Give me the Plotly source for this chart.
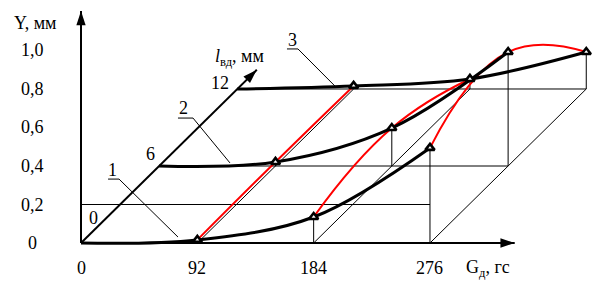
import plotly.graph_objects as go

# ---------------- data ----------------
G_VALUES = [0, 92, 184, 276]          # Gд, гс
L_LEVELS = [0, 6, 12]                 # lвд, мм
Y_L0 = [0, 0.016, 0.135, 0.494]       # curve 1
Y_L6 = [0, 0.021, 0.197, 0.592]       # curve 2
Y_L12 = [0, 0.016, 0.052, 0.192]      # curve 3
Y_BY_LEVEL = [Y_L0, Y_L6, Y_L12]
Y_TICKS = [0, 0.2, 0.4, 0.6, 0.8, 1.0]
Y_TICK_LABELS = ["0", "0,2", "0,4", "0,6", "0,8", "1,0"]
G_TICK_LABELS = ["0", "92", "184", "276"]
L_TICK_LABELS = ["0", "6", "12"]
CURVE_LABELS = ["1", "2", "3"]
Y_REF_LINE = 0.2

# ---------------- oblique projection (style) ----------------
G_PER_MM = 10.3
Y_PER_MM = 1.0 / 15.0
L_AXIS_END = 13.5
G_AXIS_END = 343
Y_AXIS_END = 1.205


def proj(g, l, y):
    return g + G_PER_MM * l, y + Y_PER_MM * l


FONT = "Liberation Serif, Times New Roman, Tinos, DejaVu Serif, serif"
BLACK = "black"
RED = "#ff0000"

fig = go.Figure()


def line(xs, ys, width=1.0, color=BLACK, shape="linear", smoothing=1.0):
    fig.add_trace(go.Scatter(x=xs, y=ys, mode="lines",
                             line=dict(color=color, width=width, shape=shape, smoothing=smoothing),
                             hoverinfo="skip", showlegend=False))


# thin construction lines
for l in L_LEVELS[1:]:
    x0, y0 = proj(G_VALUES[0], l, 0)
    x1, y1 = proj(G_VALUES[-1], l, 0)
    line([x0, x1], [y0, y1])
line([G_VALUES[0], G_VALUES[-1]], [Y_REF_LINE, Y_REF_LINE])
for g in G_VALUES[1:]:
    x0, y0 = proj(g, L_LEVELS[0], 0)
    x1, y1 = proj(g, L_LEVELS[-1], 0)
    line([x0, x1], [y0, y1])
for l, ys in zip(L_LEVELS, Y_BY_LEVEL):
    for g, y in zip(G_VALUES[1:], ys[1:]):
        x0, y0 = proj(g, l, 0)
        x1, y1 = proj(g, l, y)
        line([x0, x1], [y0, y1])

# axes
line([0, G_AXIS_END], [0, 0], width=2)
line([0, 0], [0, Y_AXIS_END], width=2)
xa, ya = proj(0, L_AXIS_END, 0)
line([0, xa], [0, ya], width=2)
fig.add_trace(go.Scatter(x=[G_AXIS_END, 0, xa], y=[0, Y_AXIS_END, ya], mode="markers",
                         marker=dict(symbol="arrow", size=15, color=BLACK, angle=[90, 0, 45],
                                     line=dict(width=0)),
                         hoverinfo="skip", showlegend=False))

# red cross-section curves (constant G across l)
for i, g in enumerate(G_VALUES[1:], start=1):
    xs, ys = [], []
    for l, yv in zip(L_LEVELS, Y_BY_LEVEL):
        x, y = proj(g, l, yv[i])
        xs.append(x)
        ys.append(y)
    line(xs, ys, width=2, color=RED, shape="spline", smoothing=1.3)

# black curves (constant l across G)
for l, yv in zip(L_LEVELS, Y_BY_LEVEL):
    xs, ys = [], []
    for g, y in zip(G_VALUES, yv):
        x, yy = proj(g, l, y)
        xs.append(x)
        ys.append(yy)
    line(xs, ys, width=3, shape="spline", smoothing=1.0)

# triangles
tx, ty = [], []
for l, yv in zip(L_LEVELS, Y_BY_LEVEL):
    for g, y in zip(G_VALUES[1:], yv[1:]):
        x, yy = proj(g, l, y)
        tx.append(x)
        ty.append(yy)
fig.add_trace(go.Scatter(x=tx, y=ty, mode="markers",
                         marker=dict(symbol="triangle-up", size=8, color="white",
                                     line=dict(color=BLACK, width=2.6)),
                         hoverinfo="skip", showlegend=False))

ann = []


def text(x, y, s, size=18, xanchor="center"):
    ann.append(dict(x=x, y=y, xref="x", yref="y", text=s, showarrow=False,
                    font=dict(family=FONT, size=size, color=BLACK), xanchor=xanchor,
                    yanchor="middle"))


for yv, lab in zip(Y_TICKS, Y_TICK_LABELS):
    text(-38, yv, lab)
for g, lab in zip(G_VALUES, G_TICK_LABELS):
    text(g, -0.13, lab)
for (dx, dy), l, lab in zip([(9.5, 0.13), (-6.5, 0.062), (-14, 0.031)], L_LEVELS, L_TICK_LABELS):
    x, y = proj(0, l, 0)
    text(x + dx, y + dy, lab)

text(-36, 1.143, "Y, мм")
text(125.7, 0.966, "<i>l</i><sub>вд</sub>, мм")
text(321.9, -0.13, "G<sub>д</sub>, гс")

LEADERS = [
    ((25.3, 0.379), (21.4, 0.332), (30.1, 0.332), (76.7, 0.031)),
    ((80.7, 0.701), (76.7, 0.649), (88.6, 0.649), (117.8, 0.416)),
    ((166.9, 1.055), (162.9, 1.008), (171.6, 1.008), (202.4, 0.805)),
]
for lab, (tp, u0, u1, pe) in zip(CURVE_LABELS, LEADERS):
    text(tp[0], tp[1], lab)
    line([u0[0], u1[0], pe[0]], [u0[1], u1[1], pe[1]], width=1)

fig.update_layout(
    width=596, height=284,
    margin=dict(l=0, r=0, t=0, b=0),
    paper_bgcolor="white", plot_bgcolor="white",
    font=dict(family=FONT, color=BLACK),
    xaxis=dict(range=[-64.06, 407.3], visible=False, fixedrange=True),
    yaxis=dict(range=[-0.213, 1.2623], visible=False, fixedrange=True),
    annotations=ann,
    showlegend=False,
)

fig.write_html("out.html", config={"displayModeBar": False},
               post_script="document.body.style.margin='0px';document.body.style.overflow='hidden';")
